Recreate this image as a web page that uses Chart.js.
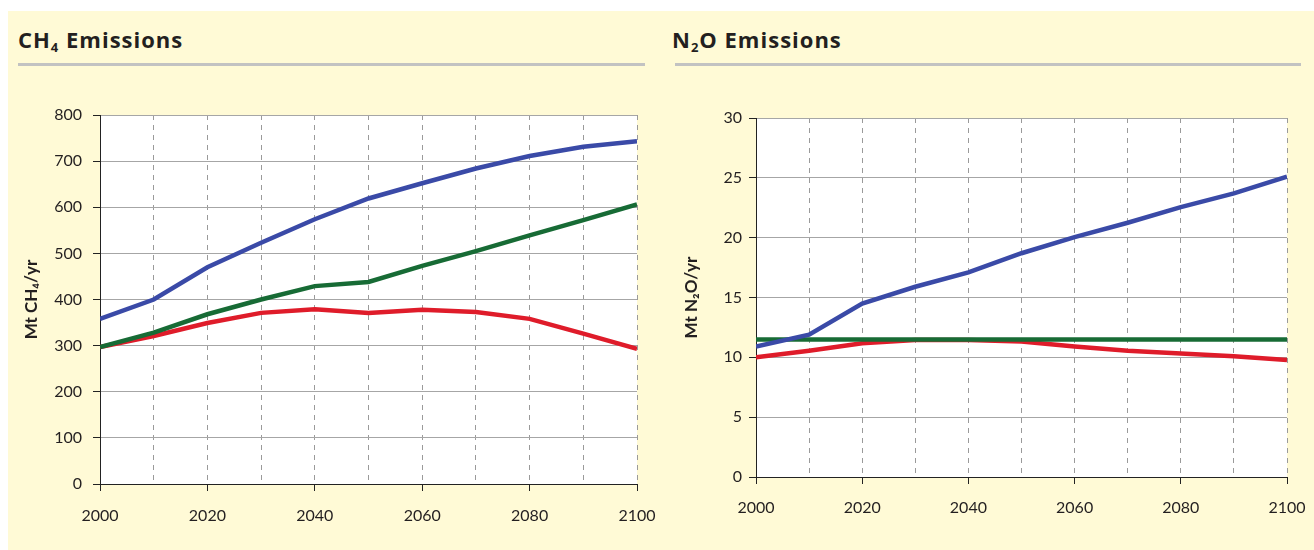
<!DOCTYPE html>
<html>
<head>
<meta charset="utf-8">
<script src="https://cdn.jsdelivr.net/npm/chart.js@4/dist/chart.umd.min.js"></script>
<style>
  html, body { margin: 0; padding: 0; background: #fff; }
  body { width: 1314px; height: 550px; position: relative; overflow: hidden; font-family: Lato, "Open Sans", sans-serif; }
  .panel-bg { position: absolute; left: 8px; top: 11px; width: 1306px; height: 539px; background: #fffad6; }
  .title { position: absolute; top: 25px; font-family: "Open Sans", Lato, sans-serif; font-size: 22px; font-weight: bold; color: #231f20; line-height: 28px; letter-spacing: 1px; }
  .title sub { font-size: 13px; vertical-align: -4px; line-height: 0; }
  .rule { position: absolute; top: 63px; height: 3px; background: #c2c2c2; }
  canvas { position: absolute; }
</style>
</head>
<body>
<div class="panel-bg"></div>
<div class="title" style="left:18px">CH<sub>4</sub> Emissions</div>
<div class="rule" style="left:18px; width:627px"></div>
<div class="title" style="left:672px">N<sub>2</sub>O Emissions</div>
<div class="rule" style="left:675px; width:626px"></div>
<canvas id="ch4Chart" width="660" height="470" style="left:0; top:80px"></canvas>
<canvas id="n2oChart" width="654" height="470" style="left:660px; top:80px"></canvas>
<script>
const years = [2000, 2010, 2020, 2030, 2040, 2050, 2060, 2070, 2080, 2090, 2100];

// CH4, Mt/yr
const ch4Blue  = [358, 400, 470, 523, 574, 619, 652, 684, 711, 731, 743];
const ch4Green = [297, 328, 368, 400, 429, 438, 473, 505, 539, 572, 606];
const ch4Red   = [297, 321, 349, 371, 379, 371, 378, 373, 358, 326, 293];

// N2O, Mt/yr
const n2oBlue  = [10.9, 11.9, 14.5, 15.9, 17.1, 18.7, 20.05, 21.25, 22.55, 23.7, 25.1];
const n2oGreen = [11.5, 11.5, 11.5, 11.5, 11.5, 11.5, 11.5, 11.5, 11.5, 11.5, 11.5];
const n2oRed   = [10.0, 10.55, 11.17, 11.44, 11.44, 11.33, 10.9, 10.55, 10.33, 10.1, 9.78];

const ch4Ticks = { min: 0, max: 800, step: 100 };
const n2oTicks = { min: 0, max: 30, step: 5 };

const BLUE = '#3a4aa7', GREEN = '#176b35', RED = '#df1c2a';

const whitePlot = {
    id: 'whitePlot',
    beforeDraw(chart) {
        const a = chart.chartArea, ctx = chart.ctx;
        ctx.save();
        ctx.fillStyle = '#ffffff';
        ctx.fillRect(a.left, a.top, a.right - a.left, a.bottom - a.top);
        ctx.restore();
    }
};

function toPoints(vals) {
    return vals.map((v, i) => ({ x: years[i], y: v }));
}

function makeChart(id, series, yRange, yTitle, box) {
    const ds = series.map(s => ({
        data: toPoints(s.values),
        borderColor: s.color,
        borderWidth: 4.5,
        pointRadius: 0,
        tension: 0,
        fill: false
    }));
    return new Chart(document.getElementById(id), {
        type: 'line',
        data: { datasets: ds },
        plugins: [whitePlot],
        options: {
            responsive: false,
            animation: false,
            layout: { padding: { left: 0, top: box.top, right: box.right, bottom: 0 } },
            plugins: { legend: { display: false }, tooltip: { enabled: false } },
            scales: {
                x: {
                    type: 'linear',
                    min: 2000, max: 2100,
                    afterFit: s => {
                        s.height = box.xHeight;
                        // label overflow is handled by the layout padding instead
                        s.paddingLeft = 0;
                        s.paddingRight = 0;
                    },
                    afterBuildTicks: s => { s.ticks = years.map(v => ({ value: v })); },
                    border: { color: '#222', width: 1, dash: [5, 5] },
                    grid: {
                        color: '#9a9a9a',
                        lineWidth: 1,
                        tickLength: 7,
                        tickColor: ctx => (ctx.tick && ctx.tick.value % 20 === 0) ? '#222' : 'rgba(0,0,0,0)'
                    },
                    ticks: {
                        autoSkip: false,
                        maxRotation: 0,
                        padding: box.xPad,
                        color: '#231f20',
                        font: { family: 'Lato', size: 16 },
                        callback: v => (v % 20 === 0 ? String(v) : '')
                    }
                },
                y: {
                    min: yRange.min, max: yRange.max,
                    afterFit: s => { s.width = box.yWidth; },
                    border: { color: '#222', width: 1 },
                    grid: { color: '#a6a6a6', lineWidth: 1, tickLength: 7, tickColor: '#222' },
                    ticks: {
                        stepSize: yRange.step,
                        padding: box.yPad,
                        color: '#231f20',
                        font: { family: 'Lato', size: 16 }
                    },
                    title: {
                        display: true,
                        text: yTitle,
                        color: '#231f20',
                        font: { family: 'Lato', size: 17, weight: 'bold' },
                        padding: { top: box.titlePad, bottom: 0 }
                    }
                }
            }
        }
    });
}

makeChart('ch4Chart', [
    { values: ch4Blue, color: BLUE },
    { values: ch4Green, color: GREEN },
    { values: ch4Red, color: RED }
], ch4Ticks, 'Mt CH\u2084/yr', { top: 35, right: 23, xHeight: 66, yWidth: 100, xPad: 15, yPad: 11, titlePad: 21 });

makeChart('n2oChart', [
    { values: n2oBlue, color: BLUE },
    { values: n2oGreen, color: GREEN },
    { values: n2oRed, color: RED }
], n2oTicks, 'Mt N\u2082O/yr', { top: 38, right: 27, xHeight: 73, yWidth: 96, xPad: 14, yPad: 7, titlePad: 21 });
</script>
</body>
</html>
